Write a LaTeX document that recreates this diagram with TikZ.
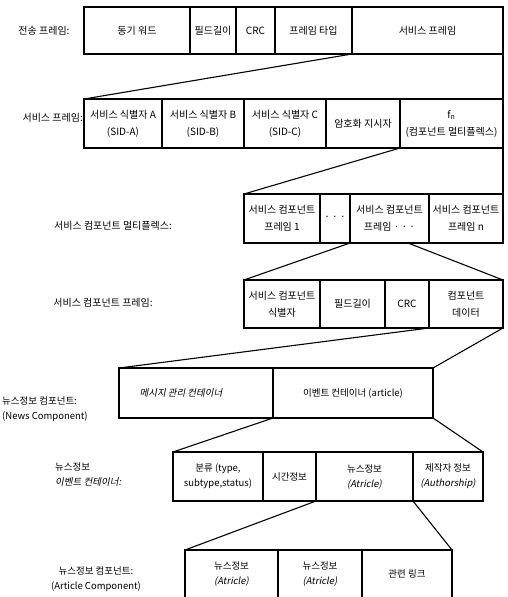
\documentclass[tikz,border=0pt]{standalone}
\usepackage{fontspec}
\setmainfont{Noto Sans CJK KR}
\newfontfamily\slfont[FakeSlant=0.2]{Noto Sans CJK KR}
\begin{document}
\begin{tikzpicture}[x=1pt,y=-1pt,
  cell/.style={draw, line width=1.1pt, anchor=north west, inner sep=0pt, outer sep=0pt,
               align=center, font=\fontsize{10}{17}\selectfont},
  small/.style={font=\fontsize{9.5}{15}\selectfont},
  lbl/.style={inner sep=0pt, font=\fontsize{10}{15}\selectfont},
  conn/.style={line width=1.1pt}]
\useasboundingbox (0,0) rectangle (507,597);

% Row 1
\node[lbl] (L1) at (44,31) {전송 프레임:};
\node[cell, minimum width=106, minimum height=47] (r1a) at (84,7) {동기 워드};
\node[cell, minimum width=46, minimum height=47] (r1b) at (190,7) {필드길이};
\node[cell, minimum width=39, minimum height=47] (r1c) at (236,7) {CRC};
\node[cell, minimum width=77, minimum height=47] (r1d) at (275,7) {프레임 타입};
\node[cell, minimum width=151, minimum height=47] (r1e) at (352,7) {서비스 프레임};

% Row 2
\node[lbl, anchor=east] (L2) at (83,118) {서비스 프레임:};
\node[cell, minimum width=78, minimum height=49] (r2a) at (84,99) {서비스 식별자 A\\(SID-A)};
\node[cell, minimum width=82, minimum height=49] (r2b) at (162,99) {서비스 식별자 B\\(SID-B)};
\node[cell, minimum width=82, minimum height=49] (r2c) at (244,99) {서비스 식별자 C\\(SID-C)};
\node[cell, minimum width=74, minimum height=49] (r2d) at (326,99) {암호화 지시자};
\node[cell, minimum width=103, minimum height=49] (r2e) at (400,99) {f\textsubscript{n}\\(컴포넌트 멀티플렉스)};

% Row 3
\node[lbl] (L3) at (113,226) {서비스 컴포넌트 멀티플렉스:};
\node[cell, minimum width=76, minimum height=49] (r3a) at (244,194) {서비스 컴포넌트\\프레임 1};
\node[cell, minimum width=30, minimum height=49] (r3b) at (320,194) {· · ·};
\node[cell, minimum width=79, minimum height=49] (r3c) at (350,194) {서비스 컴포넌트\\프레임 · · ·};
\node[cell, minimum width=74, minimum height=49] (r3d) at (429,194) {서비스 컴포넌트\\프레임 n};
\coordinate (m3) at (408,243);

% Row 4
\node[lbl] (L4) at (103,303) {서비스 컴포넌트 프레임:};
\node[cell, minimum width=76, minimum height=48] (r4a) at (244,280) {서비스 컴포넌트\\식별자};
\node[cell, minimum width=65, minimum height=48] (r4b) at (320,280) {필드길이};
\node[cell, minimum width=44, minimum height=48] (r4c) at (385,280) {CRC};
\node[cell, minimum width=74, minimum height=48] (r4d) at (429,280) {컴포넌트\\데이터};

% Row 5
\node[lbl, small, anchor=west, align=left] (L5) at (2,409.5) {뉴스정보 컴포넌트:\\(News Component)};
\node[cell, small, minimum width=154, minimum height=50] (r5a) at (119,368) {\slfont 메시지 관리 컨테이너\hspace*{30pt}};
\node[cell, small, minimum width=160, minimum height=50] (r5b) at (273,368) {이벤트 컨테이너 (article)};

% Row 6
\node[lbl, small, anchor=west, align=left] (L6) at (55,474.5) {뉴스정보\\{\slfont 이벤트 컨테이너:}};
\node[cell, small, minimum width=90, minimum height=49] (r6a) at (173,452) {분류 (type,\\subtype,status)};
\node[cell, small, minimum width=53, minimum height=49] (r6b) at (263,452) {시간정보};
\node[cell, small, minimum width=97, minimum height=49] (r6c) at (316,452) {뉴스정보\\{\slfont (Atricle)}};
\node[cell, small, minimum width=70, minimum height=49] (r6d) at (413,452) {제작자 정보\\{\slfont (Authorship)}};

% Row 7
\node[lbl, small, align=center] (L7) at (96,579.5) {뉴스정보 컴포넌트:\\(Article Component)};
\node[cell, small, minimum width=93, minimum height=48] (r7a) at (185,550) {뉴스정보\\{\slfont (Atricle)}};
\node[cell, small, minimum width=84, minimum height=48] (r7b) at (278,550) {뉴스정보\\{\slfont (Atricle)}};
\node[cell, small, minimum width=90, minimum height=48] (r7c) at (362,550) {관련 링크};

% Connectors
\draw[conn] (r1e.south west) -- (r2a.north west);
\draw[conn] (r1e.south east) -- (r2e.north east);
\draw[conn] (r2e.south west) -- (r3a.north west);
\draw[conn] (r2e.south east) -- (r3d.north east);
\draw[conn] (r3c.south west) -- (r4a.north west);
\draw[conn] (m3) -- (r4d.north east);
\draw[conn] (r4d.south west) -- (r5a.north west);
\draw[conn] (r4d.south east) -- (r5b.north east);
\draw[conn] (r5b.south west) -- (r6a.north west);
\draw[conn] (r5b.south east) -- (r6d.north east);
\draw[conn] (r6c.south west) -- (r7a.north west);
\draw[conn] (r6c.south east) -- (r7c.north east);
\end{tikzpicture}
\end{document}
